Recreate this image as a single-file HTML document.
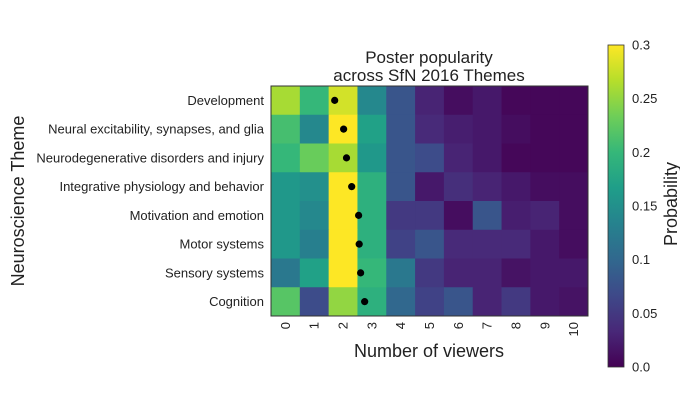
<!DOCTYPE html>
<html><head><meta charset="utf-8">
<style>body{margin:0;background:#fff;}svg{display:block;font-family:"Liberation Sans",sans-serif;}</style>
</head><body>
<svg id="c" width="680" height="408"></svg>
<script>
const themes=["Development","Neural excitability, synapses, and glia","Neurodegenerative disorders and injury","Integrative physiology and behavior","Motivation and emotion","Motor systems","Sensory systems","Cognition"];
const viewers=["0","1","2","3","4","5","6","7","8","9","10"];
const row0=[0.26,0.20,0.28,0.14,0.08,0.03,0.01,0.02,0.005,0.005,0.005];
const row1=[0.21,0.14,0.30,0.17,0.08,0.035,0.025,0.02,0.01,0.005,0.005];
const row2=[0.20,0.23,0.26,0.16,0.08,0.07,0.03,0.02,0.005,0.005,0.005];
const row3=[0.16,0.15,0.30,0.19,0.08,0.02,0.04,0.03,0.02,0.01,0.01];
const row4=[0.16,0.14,0.30,0.19,0.05,0.05,0.01,0.08,0.025,0.03,0.01];
const row5=[0.16,0.13,0.30,0.19,0.06,0.08,0.035,0.035,0.035,0.02,0.01];
const row6=[0.12,0.17,0.30,0.20,0.12,0.05,0.03,0.03,0.015,0.02,0.02];
const row7=[0.22,0.07,0.25,0.19,0.10,0.06,0.08,0.03,0.05,0.02,0.015];
const rows=[row0,row1,row2,row3,row4,row5,row6,row7];
const means=[1.71,2.02,2.12,2.30,2.54,2.56,2.61,2.75];
const cbTicks=[0,0.05,0.1,0.15,0.2,0.25,0.3];
const cbLabels=["0.0","0.05","0.1","0.15","0.2","0.25","0.3"];

const NS="http://www.w3.org/2000/svg",svg=document.getElementById('c');
function mk(t,a,p){const e=document.createElementNS(NS,t);for(const k in a)e.setAttribute(k,a[k]);(p||svg).appendChild(e);return e;}
const stops=[[68,1,84],[72,40,120],[62,73,137],[49,104,142],[38,130,142],[31,158,137],[53,183,121],[110,206,88],[181,222,43],[253,231,37]];
function viridis(t){t=Math.max(0,Math.min(1,t));const s=t*(stops.length-1),i=Math.min(Math.floor(s),stops.length-2),f=s-i;const c=stops[i].map((v,k)=>Math.round(v+(stops[i+1][k]-v)*f));return `rgb(${c})`;}
const X0=271,X1=588,Y0=86,Y1=316,VMAX=0.3;
const cw=(X1-X0)/viewers.length,ch=(Y1-Y0)/themes.length;
const xs=v=>X0+(v+0.5)*cw, ys=i=>Y0+(i+0.5)*ch;
rows.forEach((r,i)=>r.forEach((v,j)=>{
 const e=mk('rect',{x:X0+j*cw,y:Y0+i*ch,width:cw+0.5,height:ch+0.5,fill:viridis(v/VMAX)});
 
 
}));
mk('rect',{x:X0,y:Y0,width:X1-X0,height:Y1-Y0,fill:'none',stroke:'#333','stroke-width':1});
means.forEach((m,i)=>{
 const e=mk('circle',{cx:xs(m),cy:ys(i),r:3.6,fill:'#000'});
 
 
});
themes.forEach((t,i)=>{
 const e=mk('text',{x:264,y:ys(i)+4.5,'text-anchor':'end','font-size':13,fill:'#222'});e.textContent=t;
 
 
});
viewers.forEach((v,j)=>{
 const e=mk('text',{x:0,y:0,'text-anchor':'end','font-size':13,fill:'#222',transform:`translate(${xs(j)+4.5},322) rotate(-90)`});e.textContent=v;
 
 
});
let t=mk('text',{x:429,y:63,'text-anchor':'middle','font-size':17,fill:'#222'});t.textContent='Poster popularity';

t=mk('text',{x:429,y:81,'text-anchor':'middle','font-size':17,fill:'#222'});t.textContent='across SfN 2016 Themes';

t=mk('text',{x:429,y:357,'text-anchor':'middle','font-size':18,fill:'#222'});t.textContent='Number of viewers';

t=mk('text',{x:0,y:0,'text-anchor':'middle','font-size':18,fill:'#222',transform:'translate(24,201) rotate(-90)'});t.textContent='Neuroscience Theme';

// colorbar
const CX=608,CW=16,CT=45,CB=367;
const defs=mk('defs',{});const g=mk('linearGradient',{id:'vg',x1:0,y1:1,x2:0,y2:0},defs);
stops.forEach((s,i)=>mk('stop',{offset:i/(stops.length-1),'stop-color':`rgb(${s})`},g));
const cb=mk('rect',{x:CX,y:CT,width:CW,height:CB-CT,fill:'url(#vg)',stroke:'#333','stroke-width':0.8});

cbTicks.forEach((v,i)=>{
 const y=CB-(v/VMAX)*(CB-CT);
 const e=mk('text',{x:632,y:y+4.5,'font-size':13,fill:'#222'});e.textContent=cbLabels[i];
 
 
});
t=mk('text',{x:0,y:0,'text-anchor':'middle','font-size':18,fill:'#222',transform:'translate(677,204) rotate(-90)'});t.textContent='Probability';

</script>
</body></html>
